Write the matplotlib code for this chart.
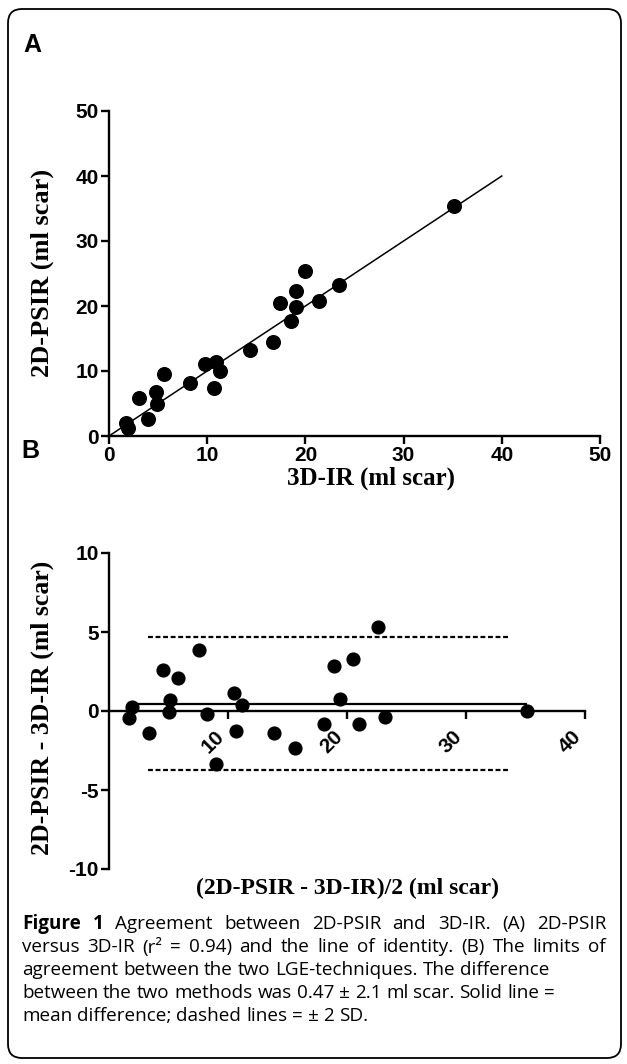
import matplotlib
matplotlib.use("Agg")
import matplotlib.pyplot as plt
from matplotlib.patches import FancyBboxPatch

plt.rcParams["axes.unicode_minus"] = False

# panel A: 3D-IR vs 2D-PSIR (ml scar)
ir_3d = [1.7, 1.9, 3.1, 4.0, 4.8, 4.9, 5.6, 8.2, 9.8, 10.7, 10.9, 11.3,
         14.4, 16.7, 17.4, 18.5, 19.0, 19.0, 20.0, 21.4, 23.4, 35.1]
psir_2d = [1.95, 1.3, 5.8, 2.6, 6.8, 5.0, 9.5, 8.1, 11.1, 7.35, 11.4, 10.0,
           13.2, 14.45, 20.4, 17.7, 22.35, 19.9, 25.4, 20.7, 23.2, 35.4]
identity = [0, 40]

# panel B: Bland-Altman
ba_mean = [1.7, 1.9, 3.4, 4.5, 5.1, 5.0, 5.8, 7.6, 8.2, 9.0, 10.5, 10.7,
           11.2, 13.9, 15.6, 18.1, 18.9, 19.4, 20.5, 21.0, 22.6, 23.2, 35.1]
ba_diff = [-0.46, 0.27, -1.41, 2.59, 0.70, -0.04, 2.07, 3.86, -0.19, -3.35,
           1.12, -1.24, 0.38, -1.37, -2.36, -0.82, 2.85, 0.76, 3.29, -0.84,
           5.30, -0.40, 0.02]
mean_diff = 0.47
upper_lim = 4.67
lower_lim = -3.73
mean_span = [1.8, 35.1]
lim_span = [3.3, 33.5]

caption = [
    "Agreement between 2D-PSIR and 3D-IR. (A) 2D-PSIR",
    "versus 3D-IR (r² = 0.94) and the line of identity. (B) The limits of",
    "agreement between the two LGE-techniques. The difference",
    "between the two methods was 0.47 ± 2.1 ml scar. Solid line =",
    "mean difference; dashed lines = ± 2 SD.",
]
justified = [True, True, False, False, False]

W, H = 627, 1064
fig = plt.figure(figsize=(W / 100, H / 100), dpi=100)

def fx(px):
    return px / W

def fy(py):
    return 1 - py / H

tick_family = ["Liberation Sans Narrow", "Liberation Sans"]
tick_size = 15
serif = "Liberation Serif"

def style_axes(ax):
    for s in ["top", "right"]:
        ax.spines[s].set_visible(False)
    for s in ["left", "bottom"]:
        ax.spines[s].set_linewidth(1.7)
    ax.tick_params(direction="out", length=5.5, width=1.7, pad=2)
    for lab in ax.get_xticklabels() + ax.get_yticklabels():
        lab.set_fontfamily(tick_family)
        lab.set_fontweight("bold")
        lab.set_fontsize(tick_size)

# ---- panel A
axA = fig.add_axes([fx(109), fy(436), fx(600) - fx(109), fy(111) - fy(436)])
axA.plot(identity, identity, color="black", lw=1.1, zorder=2)
axA.plot(ir_3d, psir_2d, "o", color="black", ms=9.8, zorder=3, clip_on=False)
axA.set_xlim(0, 50)
axA.set_ylim(0, 50)
axA.set_xticks(range(0, 51, 10))
axA.set_yticks(range(0, 51, 10))
style_axes(axA)

# ---- panel B
axB = fig.add_axes([fx(109), fy(869), fx(585) - fx(109), fy(553) - fy(869)])
axB.hlines(mean_diff, mean_span[0], mean_span[1], color="black", lw=1.6, zorder=2)
axB.hlines([upper_lim, lower_lim], lim_span[0], lim_span[1], color="black",
           lw=1.6, linestyles=(0, (2.2, 1.2)), zorder=2)
axB.plot(ba_mean, ba_diff, "o", color="black", ms=9.2, zorder=3, clip_on=False)
axB.set_xlim(0, 40)
axB.set_ylim(-10, 10)
axB.spines["bottom"].set_position(("data", 0))
axB.set_xticks([10, 20, 30, 40])
axB.set_yticks([-10, -5, 0, 5, 10])
style_axes(axB)
axB.tick_params(axis="x", pad=6)
for lab in axB.get_xticklabels():
    lab.set_rotation(45)
    lab.set_ha("right")
    lab.set_va("top")

# axis titles
fig.text(fx(371), fy(478), "3D-IR (ml scar)", ha="center", va="center",
         family=serif, weight="bold", size=18)
fig.text(fx(42), fy(273), "2D-PSIR (ml scar)", ha="center", va="center",
         rotation=90, family=serif, weight="bold", size=19)
fig.text(fx(42), fy(708), "2D-PSIR - 3D-IR (ml scar)", ha="center", va="center",
         rotation=90, family=serif, weight="bold", size=18.5)
fig.text(fx(347), fy(888), "(2D-PSIR - 3D-IR)/2 (ml scar)", ha="center",
         va="center", family=serif, weight="bold", size=17)

# panel letters
fig.text(fx(23), fy(45), "A", ha="left", va="center", family="Liberation Sans",
         weight="bold", size=18)
fig.text(fx(21), fy(451), "B", ha="left", va="center", family="Liberation Sans",
         weight="bold", size=18)

# caption, first two lines justified to the text width
cap_size = 13.6
cap_left, cap_right = 22, 606
y0 = 924
renderer = fig.canvas.get_renderer()

def text_width(s, **kw):
    t = fig.text(0, 0, s, **kw)
    w = t.get_window_extent(renderer).width
    t.remove()
    return w

reg = dict(family="Open Sans", size=cap_size)
bold = dict(family="Open Sans", size=cap_size, weight="bold")
space_w = text_width("a a", **reg) - text_width("aa", **reg)

for i, line in enumerate(caption):
    yy = fy(y0 + 23 * i)
    words = [(w, reg) for w in line.split(" ")]
    if i == 0:
        words = [("Figure", bold), ("1", bold)] + words
    widths = [text_width(w, **kw) for w, kw in words]
    if justified[i]:
        gap = (cap_right - cap_left - sum(widths)) / (len(words) - 1)
    else:
        gap = space_w
    x = cap_left
    for (w, kw), wd in zip(words, widths):
        fig.text(fx(x), yy, w, ha="left", va="center", **kw)
        x += wd + gap

# rounded border
box = FancyBboxPatch((8, 6), 613, 1049, boxstyle="round,pad=0,rounding_size=14",
                     transform=None, fill=False, ec="black", lw=1.3)
fig.patches.append(box)

fig.savefig("out.png", dpi=100)
